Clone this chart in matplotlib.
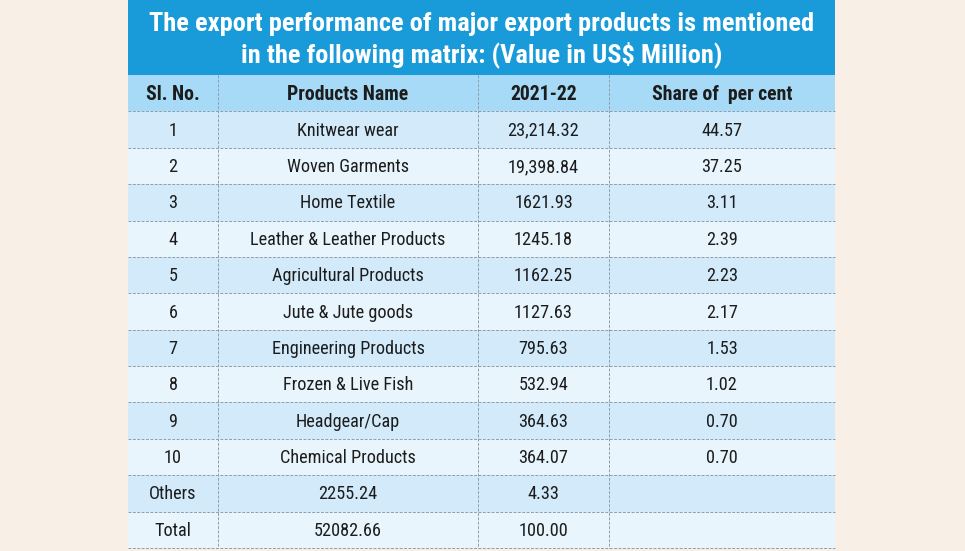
import matplotlib
matplotlib.use("Agg")
import matplotlib.pyplot as plt
from matplotlib.patches import Rectangle
from matplotlib import font_manager

title_lines = ["The export performance of major export products is mentioned",
               "in the following matrix: (Value in US$ Million)"]
headers = ["Sl. No.", "Products Name", "2021-22", "Share of  per cent"]
sl_no = ["1", "2", "3", "4", "5", "6", "7", "8", "9", "10", "Others", "Total"]
products = ["Knitwear wear", "Woven Garments", "Home Textile",
            "Leather & Leather Products", "Agricultural Products",
            "Jute & Jute goods", "Engineering Products", "Frozen & Live Fish",
            "Headgear/Cap", "Chemical Products", "2255.24", "52082.66"]
values_2021_22 = ["23,214.32", "19,398.84", "1621.93", "1245.18", "1162.25",
                  "1127.63", "795.63", "532.94", "364.63", "364.07", "4.33", "100.00"]
share_pct = ["44.57", "37.25", "3.11", "2.39", "2.23", "2.17", "1.53", "1.02",
             "0.70", "0.70", "", ""]

names = {f.name for f in font_manager.fontManager.ttflist}
fam = "DejaVu Sans"
for cand in ["Roboto Condensed", "PT Sans Narrow", "Fira Sans Condensed",
             "Open Sans Condensed", "IBM Plex Sans Condensed", "Asap Condensed"]:
    if cand in names:
        fam = cand
        break
body_w = "normal"

W, H = 965, 551
fig = plt.figure(figsize=(W / 100, H / 100), dpi=100)
fig.patch.set_facecolor("#f8f0e6")
ax = fig.add_axes([0, 0, 1, 1])
ax.set_xlim(0, W)
ax.set_ylim(H, 0)
ax.axis("off")
renderer = fig.canvas.get_renderer()


def fit_size(text, target_px, weight):
    t = fig.text(0, 0, text, fontsize=10, fontweight=weight, family=fam)
    w = t.get_window_extent(renderer).width
    t.remove()
    return 10 * target_px / w


title_fs = fit_size(title_lines[0], 665, "bold")
head_fs = fit_size("Products Name", 121, "bold")
body_fs = (fit_size("Leather & Leather Products", 193, body_w)
           + fit_size("23,214.32", 72, body_w)
           + fit_size("Others", 48, body_w)
           + fit_size("44.57", 40, body_w)) / 4

col_x = [128, 218, 478, 609, 835]
title_top, title_bot = 0, 75
row_h = (548 - 75) / 13
header_top = title_bot

ax.add_patch(Rectangle((col_x[0], title_top), col_x[-1] - col_x[0], title_bot - title_top,
                       facecolor="#199bda", edgecolor="none"))
for i, line in enumerate(title_lines):
    ax.text((col_x[0] + col_x[-1]) / 2, 24 + i * 31, line, ha="center", va="center",
            color="white", fontsize=title_fs, fontweight="bold", family=fam)

rows = [headers] + [[a, b, c, d] for a, b, c, d in zip(sl_no, products, values_2021_22, share_pct)]
dark = "#d2eafa"
light = "#e8f5fd"
for r, row in enumerate(rows):
    y0 = header_top + r * row_h
    fc = "#a6daf6" if r == 0 else (dark if r % 2 == 1 else light)
    ax.add_patch(Rectangle((col_x[0], y0), col_x[-1] - col_x[0], row_h,
                           facecolor=fc, edgecolor="none"))
    for c, txt in enumerate(row):
        ax.text((col_x[c] + col_x[c + 1]) / 2, y0 + row_h / 2 + 1, txt,
                ha="center", va="center", color="#1c1c1c",
                fontsize=head_fs if r == 0 else body_fs,
                fontweight="bold" if r == 0 else body_w, family=fam)
    ax.plot([col_x[0], col_x[-1]], [y0 + row_h, y0 + row_h], color="#8f9eab",
            lw=0.7, ls=(0, (3, 1.5)))

bottom = header_top + len(rows) * row_h
for x in col_x[1:-1]:
    ax.plot([x, x], [header_top, bottom], color="#8f9eab", lw=0.7, ls=(0, (3, 1.5)))

fig.savefig("out.png", dpi=100, facecolor=fig.get_facecolor())
